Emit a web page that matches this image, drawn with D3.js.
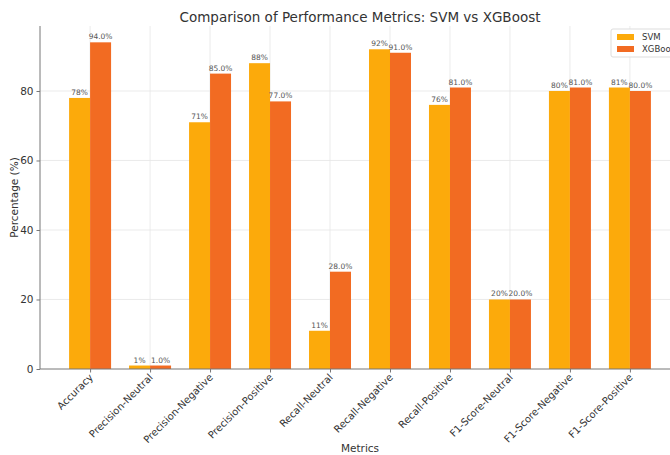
<!DOCTYPE html>
<html><head><meta charset="utf-8">
<script src="https://cdn.jsdelivr.net/npm/d3@7"></script>
<style>body{margin:0;background:#fff;} text{font-family:"DejaVu Sans",sans-serif;}</style>
</head><body>
<svg id="c" width="670" height="455"></svg>
<script>
const categories = ["Accuracy","Precision-Neutral","Precision-Negative","Precision-Positive","Recall-Neutral","Recall-Negative","Recall-Positive","F1-Score-Neutral","F1-Score-Negative","F1-Score-Positive"];
const seriesNames = ["SVM","XGBoost"];
const svmValues = [78,1,71,88,11,92,76,20,80,81];
const xgbValues = [94,1,85,77,28,91,81,20,81,80];
const yTicks = [0,20,40,60,80];
const colors = ["#FCAA0B","#F26B22"];

(function(){
const svg = d3.select("#c");
const pL = 40, pR = 680, pT = 26, pB = 369;
const n = categories.length;
const x = d3.scaleLinear().domain([-0.835, n - 1 + 0.835]).range([pL, pR]);
const y = d3.scaleLinear().domain([0, 98.7]).range([pB, pT]);
const bw = 0.35;

// grid
svg.append("g").selectAll("line").data(yTicks.slice(1)).join("line")
  .attr("x1", pL).attr("x2", pR).attr("y1", d => y(d)).attr("y2", d => y(d))
  .attr("stroke", "#e6e6e6").attr("stroke-width", 0.8);
svg.append("g").selectAll("line").data(categories).join("line")
  .attr("x1", (d,i) => x(i)).attr("x2", (d,i) => x(i)).attr("y1", pT).attr("y2", pB)
  .attr("stroke", "#e6e6e6").attr("stroke-width", 0.8);

const series = [svmValues, xgbValues];
series.forEach((vals, s) => {
  const off = s === 0 ? -bw : 0;
  svg.append("g").selectAll("rect").data(vals).join("rect")
    .attr("x", (d,i) => x(i + off)).attr("width", x(bw) - x(0))
    .attr("y", d => y(d)).attr("height", d => y(0) - y(d))
    .attr("fill", colors[s]);
  svg.append("g").selectAll("text").data(vals).join("text")
    .attr("x", (d,i) => x(i + off + bw/2)).attr("y", d => y(d) - 3)
    .attr("text-anchor", "middle").attr("font-size", 7.5).attr("fill", "#555")
    .text(d => s === 0 ? d + "%" : d.toFixed(1) + "%");
});

// axes
const ya = svg.append("g").attr("transform", `translate(${pL},0)`)
  .call(d3.axisLeft(y).tickValues(yTicks).tickSize(3.5).tickPadding(3).tickFormat(d3.format("d")));
ya.select(".domain").attr("stroke", "#777").attr("d", `M0,${pT}V${pB}`);
ya.selectAll(".tick line").attr("stroke", "#777");
ya.selectAll(".tick text").attr("font-size", 10.5).attr("fill", "#333").attr("font-family", "DejaVu Sans");

const xa = svg.append("g").attr("transform", `translate(0,${pB})`)
  .call(d3.axisBottom(x).tickValues(d3.range(n)).tickSize(3.5).tickFormat(i => categories[i]));
xa.select(".domain").attr("stroke", "#777").attr("d", `M${pL},0H${pR}`);
xa.selectAll(".tick line").attr("stroke", "#777");
xa.selectAll(".tick text").attr("font-size", 10).attr("fill", "#333").attr("font-family", "DejaVu Sans")
  .attr("text-anchor", "end").attr("dy", null).attr("y", 0)
  .attr("transform", "translate(3,9) rotate(-45)");

// labels
svg.append("text").attr("x", (pL + pR)/2).attr("y", 22).attr("text-anchor", "middle")
  .attr("font-size", 13.5).attr("fill", "#333").text("Comparison of Performance Metrics: SVM vs XGBoost");
svg.append("text").attr("transform", `translate(18,${(pT+pB)/2}) rotate(-90)`).attr("text-anchor", "middle")
  .attr("font-size", 10.5).attr("fill", "#333").text("Percentage (%)");
svg.append("text").attr("x", (pL + pR)/2).attr("y", 452).attr("text-anchor", "middle")
  .attr("font-size", 10.5).attr("fill", "#333").text("Metrics");

// legend
const lg = svg.append("g").attr("transform", "translate(611,29)");
lg.append("rect").attr("width", 75).attr("height", 28).attr("rx", 2)
  .attr("fill", "#fff").attr("fill-opacity", 0.85).attr("stroke", "#ddd");
seriesNames.forEach((nm, i) => {
  lg.append("rect").attr("x", 6).attr("y", 5 + i*12).attr("width", 17).attr("height", 6).attr("fill", colors[i]);
  lg.append("text").attr("x", 31).attr("y", 11 + i*12).attr("font-size", 8.5).attr("fill", "#333").text(nm);
});
})();
</script>
</body></html>
